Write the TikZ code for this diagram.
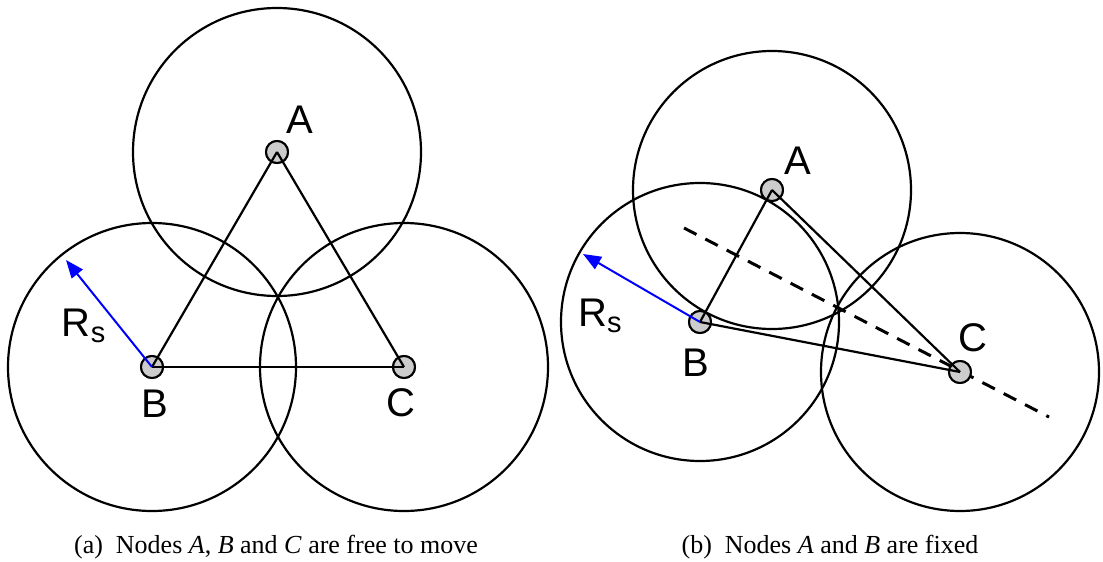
\documentclass[tikz,border=0pt]{standalone}
\usepackage{fontspec}
\setmainfont{Liberation Serif}
\newfontfamily\labfont{Liberation Sans}
\usetikzlibrary{arrows.meta}
\tikzset{
  dot/.style={circle,draw=black,fill=black!20,line width=2pt,minimum size=22pt,inner sep=0pt},
  coverage/.style={line width=2.2pt},
  link/.style={line width=2.2pt},
  bis/.style={line width=3pt,dash pattern=on 14pt off 10pt},
  radiusarrow/.style={draw=blue,line width=2pt,-{Triangle[length=18pt,width=14pt]}},
  lab/.style={inner sep=0pt,anchor=base,font=\labfont\fontsize{40}{48}\selectfont},
  rslab/.style={inner sep=0pt,anchor=base west,font=\labfont\fontsize{40}{48}\selectfont},
  captiontext/.style={inner sep=0pt,anchor=base,font=\fontsize{26}{30}\selectfont}
}
\newcommand{\rsub}{R\raisebox{-6pt}{\fontsize{29}{29}\selectfont s}}
\begin{document}
\begin{tikzpicture}[x=1pt,y=-1pt]
\useasboundingbox (0,0) rectangle (1103,562);
% ---------- panel (a)
\node[dot] (aA) at (277,152) {};
\node[dot] (aB) at (152,367) {};
\node[dot] (aC) at (404,367) {};
\draw[coverage] (aA.center) circle[radius=144];
\draw[coverage] (aB.center) circle[radius=144];
\draw[coverage] (aC.center) circle[radius=144];
\node[dot] at (aA) {};
\node[dot] at (aB) {};
\node[dot] at (aC) {};
\draw[link] (aA.center) -- (aB.center);
\draw[link] (aA.center) -- (aC.center);
\draw[link] (aB.center) -- (aC.center);
\coordinate (aR) at (66,260);
\draw[radiusarrow] (aB.center) -- (aR);
\node[lab] (laA) at (299.5,133) {A};
\node[lab] (laB) at (155,417) {B};
\node[lab] (laC) at (401,416) {C};
\node[rslab] (laR) at (61.7,336.7) {\rsub};
\node[captiontext] (capa) at (276,553) {(a)\hspace{0.5em}Nodes \textit{A}, \textit{B} and \textit{C} are free to move};
% ---------- panel (b)
\node[dot] (bA) at (772,190) {};
\node[dot] (bB) at (700,322) {};
\node[dot] (bC) at (960,372) {};
\draw[coverage] (bA.center) circle[radius=139];
\draw[coverage] (bB.center) circle[radius=139];
\draw[coverage] (bC.center) circle[radius=139];
\node[dot] at (bA) {};
\node[dot] at (bB) {};
\coordinate (d1) at (684,228);
\coordinate (d2) at (1049,417);
\draw[bis] (d1) -- (d2);
\node[dot] at (bC) {};
\draw[link] (bA.center) -- (bB.center);
\draw[link] (bA.center) -- (bC.center);
\draw[link] (bB.center) -- (bC.center);
\coordinate (bR) at (583,254);
\draw[radiusarrow] (bB.center) -- (bR);
\node[lab] (lbA) at (798,174) {A};
\node[lab] (lbB) at (696,376) {B};
\node[lab] (lbC) at (973,351) {C};
\node[rslab] (lbR) at (578,326.7) {\rsub};
\node[captiontext] (capb) at (830,553) {(b)\hspace{0.5em}Nodes \textit{A} and \textit{B} are fixed};
\end{tikzpicture}
\end{document}
